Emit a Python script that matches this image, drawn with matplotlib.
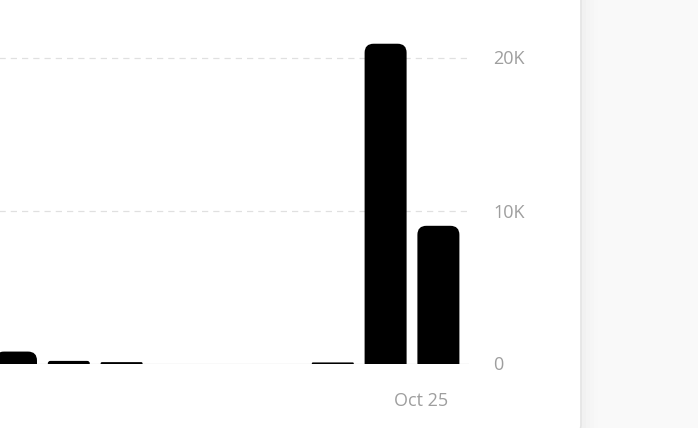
import matplotlib
matplotlib.use("Agg")
import matplotlib.pyplot as plt
from matplotlib.patches import FancyBboxPatch, Rectangle

# ---- data ----
bar_index = [0, 1, 2, 3, 4, 5, 6, 7, 8]
bar_values = [780, 170, 90, 0, 0, 0, 70, 20900, 9000]
y_ticks = [0, 10000, 20000]
y_tick_labels = ["0", "10K", "20K"]
x_tick_pos = [7.67]
x_tick_labels = ["Oct 25"]

W, H = 698, 428
fig = plt.figure(figsize=(W / 100, H / 100), dpi=100)
fig.patch.set_facecolor("#f9f9f9")

# card background
card = FancyBboxPatch((-20 / W, -(6) / H), (581 + 20) / W, (H + 30) / H,
                      boxstyle="round,pad=0,rounding_size=0.02",
                      transform=fig.transFigure, facecolor="white",
                      edgecolor="#e3e3e3", linewidth=1.2, zorder=-2)
fig.patches.append(card)
# slight shadow beside card
for i, c in enumerate(["#f1f1f1", "#f4f4f4", "#f6f6f6", "#f8f8f8"]):
    fig.patches.append(Rectangle(((582 + i * 4) / W, 0), 4 / W, 1,
                                 transform=fig.transFigure, facecolor=c,
                                 edgecolor="none", zorder=-3))

# axes geometry (pixels)
px_per_unit = 52.8
x0_px = 16.0        # centre of index 0
ax_left_px, ax_right_px = -40.0, 469.0
ax_bottom_px = 363.5  # from top
ymax = 363.5 / 153.0 * 10000

ax = fig.add_axes([ax_left_px / W, (H - ax_bottom_px) / H,
                   (ax_right_px - ax_left_px) / W, ax_bottom_px / H])
ax.set_facecolor("none")
ax.set_xlim((ax_left_px - x0_px) / px_per_unit, (ax_right_px - x0_px) / px_per_unit)
ax.set_ylim(0, ymax)

yu_per_px = ymax / ax_bottom_px
xu_per_px = 1 / px_per_unit
bw = 42 / px_per_unit
for xi, v in zip(bar_index, bar_values):
    if v <= 0:
        continue
    h_px = v / yu_per_px
    r_px = min(9.0, h_px)
    r_x = r_px * xu_per_px
    ext = r_px * yu_per_px
    p = FancyBboxPatch((xi - bw / 2, -ext), bw, v + ext,
                       boxstyle=f"round,pad=0,rounding_size={r_x}",
                       mutation_aspect=yu_per_px / xu_per_px,
                       facecolor="black", edgecolor="none", zorder=3)
    ax.add_patch(p)

ax.axhline(0, color="#e2e2e2", linewidth=1.0, zorder=1)
for t in y_ticks[1:]:
    ax.axhline(t, color="#e0e0e0", linewidth=0.9, linestyle=(0, (5, 4)), zorder=1)

for s in ax.spines.values():
    s.set_visible(False)
ax.yaxis.tick_right()
ax.set_yticks(y_ticks)
ax.set_yticklabels(y_tick_labels)
ax.set_xticks(x_tick_pos)
ax.set_xticklabels(x_tick_labels)
ax.tick_params(axis="y", length=0, pad=17.3, labelsize=13, labelcolor="#9e9e9e")
ax.tick_params(axis="x", length=0, pad=20.5, labelsize=13, labelcolor="#9e9e9e")
for lab in ax.get_xticklabels() + ax.get_yticklabels():
    lab.set_fontfamily("Open Sans")

fig.savefig("out.png", dpi=100, facecolor=fig.get_facecolor())
